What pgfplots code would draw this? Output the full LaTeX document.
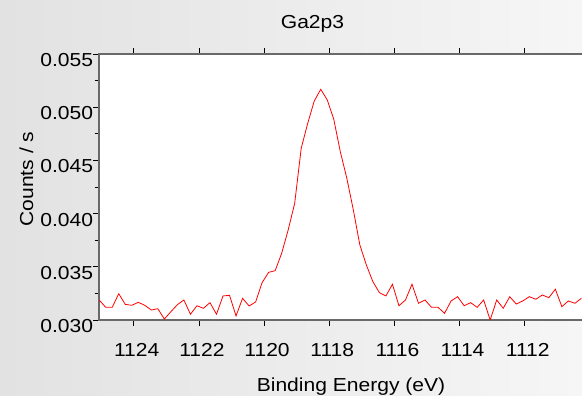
\documentclass[border=0pt]{standalone}
\usepackage{fontspec}
\setmainfont{Liberation Sans}[FakeStretch=1.12]
\usepackage{pgfplots}
\pgfplotsset{compat=1.18}
\usepackage{pgfplotstable}
\definecolor{bgl}{RGB}{226,226,226}
\definecolor{bgr}{RGB}{246,246,246}
\definecolor{axgray}{RGB}{105,105,105}
\pgfplotstableread{
x y
1125.06 0.03188
1124.86 0.03119
1124.66 0.03119
1124.46 0.03247
1124.26 0.03147
1124.06 0.03138
1123.86 0.03166
1123.66 0.03138
1123.46 0.03094
1123.26 0.03106
1123.06 0.03009
1122.86 0.03078
1122.66 0.03144
1122.46 0.03188
1122.26 0.03054
1122.06 0.03134
1121.86 0.03110
1121.66 0.03163
1121.46 0.03054
1121.26 0.03226
1121.06 0.03232
1120.86 0.03038
1120.66 0.03204
1120.46 0.03132
1120.26 0.03169
1120.06 0.03351
1119.86 0.03448
1119.66 0.03463
1119.46 0.03627
1119.26 0.03846
1119.06 0.04097
1118.86 0.04614
1118.66 0.04849
1118.46 0.05058
1118.26 0.05168
1118.06 0.05068
1117.86 0.04886
1117.66 0.04582
1117.46 0.04332
1117.26 0.04034
1117.06 0.03705
1116.86 0.03517
1116.66 0.03360
1116.46 0.03257
1116.26 0.03226
1116.06 0.03336
1115.86 0.03134
1115.66 0.03188
1115.46 0.03336
1115.26 0.03157
1115.06 0.03188
1114.86 0.03119
1114.66 0.03119
1114.46 0.03063
1114.26 0.03179
1114.06 0.03219
1113.86 0.03134
1113.66 0.03163
1113.46 0.03119
1113.26 0.03188
1113.06 0.03000
1112.86 0.03188
1112.66 0.03110
1112.46 0.03219
1112.26 0.03150
1112.06 0.03179
1111.86 0.03219
1111.66 0.03195
1111.46 0.03235
1111.26 0.03210
1111.06 0.03289
1110.86 0.03125
1110.66 0.03179
1110.46 0.03157
1110.26 0.03204
}\gadata
\begin{document}
\begin{tikzpicture}[x=1pt,y=1pt]
\useasboundingbox (0,0) rectangle (582,396);
\clip (0,0) rectangle (582,396);
\shade[left color=bgl, right color=bgr] (0,0) rectangle (582,396);
\begin{axis}[
  at={(99.2pt,76pt)}, anchor=south west,
  scale only axis, width=490.7pt, height=266pt,
  x dir=reverse, xmin=1110, xmax=1125.06,
  ymin=0.030, ymax=0.055,
  xtick={1112,1114,...,1124}, minor x tick num=1,
  ytick={0.030,0.035,0.040,0.045,0.050,0.055}, minor y tick num=1,
  scaled y ticks=false,
  axis background/.style={fill=white},
  axis line style={draw=axgray, line width=1.4pt},
  tick style={black, line width=0.7pt},
  tick align=outside,
  major tick length=6pt, minor tick length=4.5pt,
  /pgf/number format/assume math mode=true,
  tick label style={font=\fontsize{18.8}{22}\selectfont},
  yticklabel style={/pgf/number format/fixed, /pgf/number format/fixed zerofill, /pgf/number format/precision=3, inner sep=0pt, yshift=-6pt},
  xticklabel style={/pgf/number format/1000 sep={}, inner sep=0pt, xshift=3pt, yshift=-17pt},
]
\addplot[red, line width=0.8pt] table {\gadata};
\end{axis}
\node[anchor=base, font=\fontsize{18.8}{22}\selectfont] at (312.5,367.7) {Ga2p3};
\node[anchor=base, font=\fontsize{18.8}{22}\selectfont] at (351,4.3) {Binding Energy (eV)};
\node[anchor=base, rotate=90, font=\fontsize{18.8}{22}\selectfont] at (33,217) {Counts / s};
\end{tikzpicture}
\end{document}
